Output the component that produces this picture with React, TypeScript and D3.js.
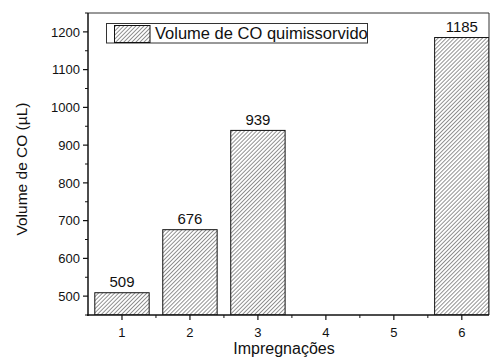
import * as d3 from "d3";

const categories = [1, 2, 3, 4, 5, 6];
const volumes: (number | null)[] = [509, 676, 939, null, null, 1185];
const yTicks = [500, 600, 700, 800, 900, 1000, 1100, 1200];
const yMinor = [450, 550, 650, 750, 850, 950, 1050, 1150, 1250];
const xMinor = [1.5, 2.5, 3.5, 4.5, 5.5];
const seriesName = "Volume de CO quimissorvido";

const width = 491;
const height = 358;
const margin = { top: 13, right: 2, bottom: 43, left: 88 };
const font = "Liberation Sans, Arial, sans-serif";

export default function App() {
  const x = d3
    .scaleLinear()
    .domain([0.5, 6.4])
    .range([margin.left, width - margin.right]);
  const y = d3
    .scaleLinear()
    .domain([450, 1250])
    .range([height - margin.bottom, margin.top]);
  const barW = x(0.8) - x(0);
  const x0 = margin.left;
  const y0 = height - margin.bottom;

  return (
    <svg width={width} height={height} style={{ position: "absolute", left: 0, top: 0, background: "#fff" }}>
      <defs>
        <pattern id="hatch" patternUnits="userSpaceOnUse" width="2.85" height="2.85" patternTransform="rotate(45)">
          <line x1="0" y1="0" x2="0" y2="2.85" stroke="#111" strokeWidth="0.9" />
        </pattern>
        <clipPath id="plot">
          <rect x={x0} y={margin.top} width={width - margin.right - x0} height={y0 - margin.top} />
        </clipPath>
      </defs>

      <g clipPath="url(#plot)">
        {categories.map((c, i) => {
          const v = volumes[i];
          if (v == null) return null;
          return (
            <rect
              key={c}
              x={x(c) - barW / 2}
              y={y(v)}
              width={barW}
              height={y0 - y(v)}
              fill="url(#hatch)"
              stroke="#111"
              strokeWidth="1"
            />
          );
        })}
      </g>

      {categories.map((c, i) => {
        const v = volumes[i];
        if (v == null) return null;
        return (
          <text key={"l" + c} x={x(c)} y={y(v) - 5.5} textAnchor="middle" fontFamily={font} fontSize="15" fill="#111">
            {v}
          </text>
        );
      })}

      {/* frame */}
      <line x1={x0} y1={margin.top} x2={width - margin.right} y2={margin.top} stroke="#333" strokeWidth="1" />
      <line x1={width - margin.right} y1={margin.top} x2={width - margin.right} y2={y0} stroke="#333" strokeWidth="1" />
      <line x1={x0} y1={margin.top} x2={x0} y2={y0 + 1} stroke="#111" strokeWidth="1.5" />
      <line x1={x0 - 1} y1={y0} x2={width - margin.right} y2={y0} stroke="#111" strokeWidth="1.5" />

      {/* y ticks */}
      {yTicks.map((t) => (
        <g key={"y" + t}>
          <line x1={x0 - 5} x2={x0} y1={y(t)} y2={y(t)} stroke="#111" strokeWidth="1.2" />
          <text x={x0 - 8} y={y(t)} dy="0.36em" textAnchor="end" fontFamily={font} fontSize="13" fill="#111">
            {t}
          </text>
        </g>
      ))}
      {yMinor.map((t) => (
        <line key={"ym" + t} x1={x0 - 3} x2={x0} y1={y(t)} y2={y(t)} stroke="#111" strokeWidth="1" />
      ))}

      {/* x ticks */}
      {categories.map((c) => (
        <g key={"x" + c}>
          <line x1={x(c)} x2={x(c)} y1={y0} y2={y0 + 5} stroke="#111" strokeWidth="1.2" />
          <text x={x(c)} y={y0 + 22} textAnchor="middle" fontFamily={font} fontSize="13" fill="#111">
            {c}
          </text>
        </g>
      ))}
      {xMinor.map((c) => (
        <line key={"xm" + c} x1={x(c)} x2={x(c)} y1={y0} y2={y0 + 3} stroke="#111" strokeWidth="1" />
      ))}

      {/* axis titles */}
      <text x={284} y={354} textAnchor="middle" fontFamily={font} fontSize="16" fill="#111">
        Impregnações
      </text>
      <text
        transform="translate(27, 169) rotate(-90)"
        textAnchor="middle"
        fontFamily={font}
        fontSize="15.5"
        fill="#111"
      >
        Volume de CO (µL)
      </text>

      {/* legend */}
      <rect x={106.5} y={23.5} width={261} height={19.5} fill="#fff" stroke="#333" strokeWidth="1" />
      <rect x={114.5} y={25.5} width={35.5} height={17} fill="url(#hatch)" stroke="#111" strokeWidth="1" />
      <text x={155} y={39} fontFamily={font} fontSize="16.5" fill="#111">
        {seriesName}
      </text>
    </svg>
  );
}
